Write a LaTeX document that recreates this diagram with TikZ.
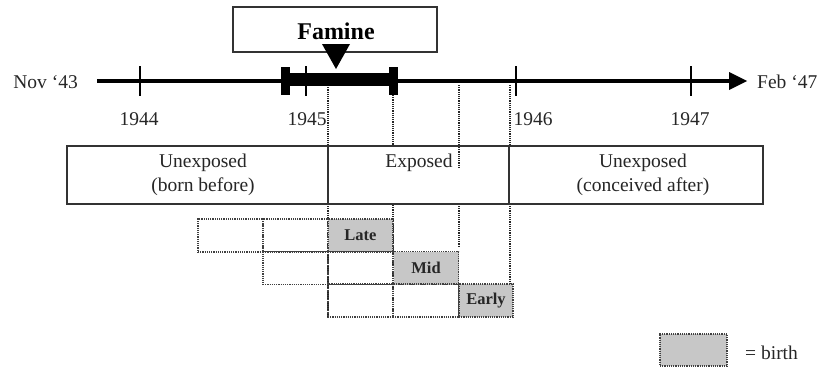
\documentclass[tikz,border=0pt]{standalone}
\usepackage{fontspec}
\setmainfont{Liberation Serif}[BoldFont={* Bold}]
\begin{document}
\begin{tikzpicture}[x=1pt,y=-1pt,
  txt/.style={inner sep=0pt,font=\fontsize{19.5}{24}\selectfont,text=black!85},
  small/.style={inner sep=0pt,font=\bfseries\fontsize{16.5}{20}\selectfont,text=black!85},
  bigbox/.style={draw=black!80,line width=1.8pt,fill=white,inner sep=0pt,outer sep=0pt},
  cell/.style={draw=black!75,densely dotted,line width=1.2pt,inner sep=0pt,outer sep=0pt,minimum height=33pt},
  birthcell/.style={cell,fill=black!22},
  guide/.style={draw=black!85,densely dotted,line width=1.2pt},
  tick/.style={draw=black,line width=1.6pt}]
\useasboundingbox (0,0) rectangle (819,367);

% guide lines (drawn first)
\coordinate (g1a) at (328,85);  \coordinate (g1b) at (328,317);
\coordinate (g2a) at (393,95);  \coordinate (g2b) at (393,317);
\coordinate (g3a) at (459,85);  \coordinate (g3b) at (459,247);
\coordinate (g4a) at (510,85);  \coordinate (g4b) at (510,284);
\draw[guide] (g1a) -- (g1b);
\draw[guide] (g2a) -- (g2b);
\draw[guide] (g3a) -- (g3b);
\draw[guide] (g4a) -- (g4b);

% famine box
\node[bigbox,minimum width=204pt,minimum height=45pt] (famine) at (335,29.5) {};
\node[inner sep=0pt,font=\bfseries\fontsize{24}{28}\selectfont] (famtxt) at (336,31) {Famine};
\fill[black] (322,44) -- (350,44) -- (336,69) -- cycle;

% timeline
\coordinate (t0) at (97,81);
\coordinate (t1) at (731,81);
\draw[black,line width=4.5pt] (t0) -- (t1);
\fill[black] (729,72) -- (747,81) -- (729,90) -- cycle;
\fill[black] (289,73) rectangle (390,85.5);
\fill[black] (281,67) rectangle (289.5,95);
\fill[black] (389,67) rectangle (398,95);
\coordinate (k1a) at (140,66); \coordinate (k1b) at (140,96);
\coordinate (k2a) at (306,66); \coordinate (k2b) at (306,96);
\coordinate (k3a) at (516,66); \coordinate (k3b) at (516,96);
\coordinate (k4a) at (691,66); \coordinate (k4b) at (691,96);
\draw[tick] (k1a) -- (k1b);
\draw[tick] (k2a) -- (k2b);
\draw[tick] (k3a) -- (k3b);
\draw[tick] (k4a) -- (k4b);

\node[txt,anchor=east] (nov) at (78,82) {Nov ‘43};
\node[txt,anchor=west] (feb) at (757,82) {Feb ‘47};
\node[txt] (y44) at (139,119) {1944};
\node[txt] (y45) at (307,119) {1945};
\node[txt] (y46) at (533,119) {1946};
\node[txt] (y47) at (690,119) {1947};

% exposure boxes
\node[bigbox,minimum width=261pt,minimum height=58pt] (unexp1) at (197.5,175) {};
\node[bigbox,minimum width=181pt,minimum height=58pt] (exp) at (418.5,175) {};
\node[bigbox,minimum width=254pt,minimum height=58pt] (unexp2) at (636,175) {};
\node[txt,align=center] (u1txt) at (203,175) {Unexposed\\(born before)};
\node[txt] (etxt) at (419,163) {Exposed};
\node[txt,align=center] (u2txt) at (643,175) {Unexposed\\(conceived after)};
\coordinate (g3c) at (459,147); \coordinate (g3d) at (459,167);
\draw[guide] (g3c) -- (g3d);

% cohort cells
\node[cell,minimum width=65pt] (r1c1) at (230.5,235.5) {};
\node[cell,minimum width=65pt] (r1c2) at (295.5,235.5) {};
\node[birthcell,minimum width=65pt,small] (late) at (360.5,235.5) {Late};
\node[cell,minimum width=65pt] (r2c1) at (295.5,268) {};
\node[cell,minimum width=65pt] (r2c2) at (360.5,268) {};
\node[birthcell,minimum width=65pt,small] (mid) at (426,268) {Mid};
\node[cell,minimum width=65pt] (r3c1) at (360.5,300.5) {};
\node[cell,minimum width=66pt] (r3c2) at (426,300.5) {};
\node[birthcell,minimum width=54pt,small] (early) at (486,300.5) {Early};

% legend
\node[birthcell,minimum width=67pt,minimum height=32pt] (legbox) at (693.5,350) {};
\node[txt,anchor=west] (legtxt) at (745,353) {= birth};
\end{tikzpicture}
\end{document}
